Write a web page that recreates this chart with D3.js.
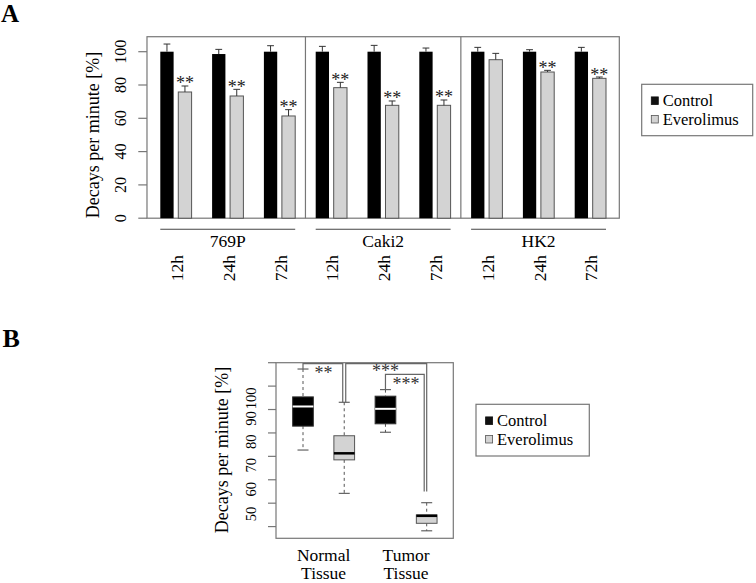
<!DOCTYPE html>
<html><head><meta charset="utf-8">
<script src="https://cdn.jsdelivr.net/npm/d3@7"></script>
<style>body{margin:0;background:#fff}svg{display:block}text{font-family:"Liberation Serif","Times New Roman",serif}</style>
</head><body><div id="chart"></div>
<script>
// ---------- Panel A data ----------
const cells = ["769P", "Caki2", "HK2"];
const times = ["12h", "24h", "72h"];
const series = ["Control", "Everolimus"];
const controlMean = [100, 98.6, 100, 100, 100, 100, 100, 100, 100];
const controlErr  = [4.6, 2.8, 3.6, 3.2, 3.8, 2.2, 2.6, 1.2, 2.6];
const everoMean   = [75.8, 73.4, 61.4, 78.4, 67.8, 67.8, 95.2, 87.8, 84.0];
const everoErr    = [3.6, 4.0, 3.8, 3.2, 2.6, 3.2, 3.8, 1.0, 0.8];
const everoSig    = ["**", "**", "**", "**", "**", "**", "", "**", "**"];
const yTicksA     = [0, 20, 40, 60, 80, 100];

// ---------- Panel B data ----------
const tissues   = ["Normal\nTissue", "Tumor\nTissue"];
const boxGroups = ["Normal Control", "Normal Everolimus", "Tumor Control", "Tumor Everolimus"];
const boxMin    = [82.7, 64.2, 90.3, 48.2];
const boxQ1     = [92.9, 78.5, 93.9, 51.4];
const boxMedian = [101.3, 81.3, 100.3, 54.6];
const boxQ3     = [105.4, 88.8, 105.7, 55.0];
const boxMax    = [117.3, 103.1, 108.5, 60.2];
const yTicksB   = [50, 60, 70, 80, 90, 100, 110, 120];
const yLabelsB  = [50, 60, 70, 80, 90, 100];
const yLabelAtB = [55.4, 66.0, 76.2, 86.2, 96.2, 104.8]; // where the printed labels sit (shifted in the original)
// significance brackets
const sigFrom   = [0, 1, 2];
const sigTo     = [1, 3, 3];
const sigLabel  = ["**", "***", "***"];
const sigLevel  = [119.6, 119.6, 115.0];
const sigEndA   = [117.3, 103.1, 108.5];
const sigEndB   = [103.1, 65.0, 65.0];

const W = 756, H = 583;
const svg = d3.select("#chart").append("svg").attr("width", W).attr("height", H);
const frameCol = "#777";
const fillGrey = "#d3d3d3";

// ================= Panel A =================
const keys = cells.flatMap(c => times.map(t => c + "|" + t));
const xA = d3.scaleBand().domain(keys).range([150.8, 617]);
const xIn = d3.scaleBand().domain(series).range([9.5, 40.8]).paddingInner(0.26);
const bw = xIn.bandwidth();
const yA = d3.scaleLinear().domain([0, 100]).range([218.2, 51.7]);
const gA = svg.append("g");

const leftA = xA(keys[0]) + xIn("Control") - bw;
const rightA = xA(keys[keys.length - 1]) + xIn("Everolimus") + 2 * bw;

gA.append("text").attr("x", 1).attr("y", 21.7).attr("font-size", 25).attr("font-weight", "bold").text("A");

gA.append("rect").attr("x", leftA).attr("y", yA(109)).attr("width", rightA - leftA)
  .attr("height", yA(0) - yA(109)).attr("fill", "none").attr("stroke", frameCol).attr("stroke-width", 1.2);
[3, 6].forEach(i => {
  const xe = xA(keys[i - 1]) + xIn("Everolimus") + bw;
  const xs = xA(keys[i]) + xIn("Control");
  gA.append("line").attr("x1", (xe + xs) / 2).attr("x2", (xe + xs) / 2)
    .attr("y1", yA(109)).attr("y2", yA(0)).attr("stroke", frameCol).attr("stroke-width", 1.2);
});
yTicksA.forEach(v => {
  gA.append("line").attr("x1", leftA - 8.7).attr("x2", leftA).attr("y1", yA(v)).attr("y2", yA(v))
    .attr("stroke", frameCol).attr("stroke-width", 1.2);
  gA.append("text").attr("transform", `translate(120,${yA(v)}) rotate(-90)`)
    .attr("text-anchor", "middle").attr("dy", "0.35em").attr("font-size", 16).text(v);
});
gA.append("text").attr("transform", `translate(93,${(yA(0) + yA(100)) / 2}) rotate(-90)`)
  .attr("text-anchor", "middle").attr("dy", "0.35em").attr("font-size", 18).text("Decays per minute [%]");

keys.forEach((k, i) => {
  const xc = xA(k) + xIn("Control"), xe = xA(k) + xIn("Everolimus");
  gA.append("rect").attr("x", xc).attr("y", yA(controlMean[i])).attr("width", bw)
    .attr("height", yA(0) - yA(controlMean[i])).attr("fill", "#000");
  gA.append("rect").attr("x", xe).attr("y", yA(everoMean[i])).attr("width", bw)
    .attr("height", yA(0) - yA(everoMean[i])).attr("fill", fillGrey).attr("stroke", "#555").attr("stroke-width", 1);
  [[xc, controlMean[i], controlErr[i]], [xe, everoMean[i], everoErr[i]]].forEach(([x, m, e]) => {
    const cx = x + bw / 2;
    gA.append("line").attr("x1", cx).attr("x2", cx).attr("y1", yA(m)).attr("y2", yA(m + e))
      .attr("stroke", "#333").attr("stroke-width", 1);
    gA.append("line").attr("x1", cx - 3.4).attr("x2", cx + 3.4).attr("y1", yA(m + e)).attr("y2", yA(m + e))
      .attr("stroke", "#333").attr("stroke-width", 1);
  });
  if (everoSig[i]) {
    gA.append("text").attr("x", xe + bw / 2).attr("y", yA(everoMean[i] + everoErr[i]) + 3.5)
      .attr("text-anchor", "middle").attr("font-size", 18).attr("fill", "#222").text(everoSig[i]);
  }
  const gc = (xc + xe + bw) / 2 + 0.9;
  gA.append("text").attr("transform", `translate(${gc},255) rotate(-90)`)
    .attr("text-anchor", "end").attr("dy", "0.35em").attr("font-size", 17.5).text(times[i % 3]);
});
cells.forEach((c, ci) => {
  const x1 = xA(keys[ci * 3]) + xIn("Control");
  const x2 = xA(keys[ci * 3 + 2]) + xIn("Everolimus") + bw;
  gA.append("line").attr("x1", x1).attr("x2", x2).attr("y1", 229.3).attr("y2", 229.3)
    .attr("stroke", "#444").attr("stroke-width", 1.1);
  gA.append("text").attr("x", (x1 + x2) / 2).attr("y", 246.7).attr("text-anchor", "middle")
    .attr("font-size", 17.5).text(c);
});
function legend(g, x, y, w, h) {
  g.append("rect").attr("x", x).attr("y", y).attr("width", w).attr("height", h)
    .attr("fill", "#fff").attr("stroke", frameCol).attr("stroke-width", 1.2);
  series.forEach((s, i) => {
    const by = y + 22 + i * 18.5;
    g.append("rect").attr("x", x + 9.6).attr("y", by - 9.4).attr("width", 7).attr("height", 7.6)
      .attr("fill", i === 0 ? "#111" : fillGrey).attr("stroke", i === 0 ? "#111" : "#555").attr("stroke-width", 0.8);
    g.append("text").attr("x", x + 21).attr("y", by).attr("font-size", 16.5).text(s);
  });
}
legend(gA, 641.7, 84.3, 111, 51.4);

// ================= Panel B =================
const gB = svg.append("g");
const xB = d3.scaleLinear().domain([0, 3]).range([303, 426.7]);
const yB = d3.scaleLinear().domain([45, 120]).range([538.3, 362.7]);
const leftB = xB(0) - 27, rightB = xB(3) + 26.6;
const boxW = 20.7, capW = 11;

gB.append("text").attr("x", 2.5).attr("y", 346.7).attr("font-size", 26).attr("font-weight", "bold").text("B");

gB.append("rect").attr("x", leftB).attr("y", yB(120)).attr("width", rightB - leftB)
  .attr("height", yB(45) - yB(120)).attr("fill", "none").attr("stroke", frameCol).attr("stroke-width", 1.2);
yTicksB.forEach(v => {
  gB.append("line").attr("x1", leftB - 8).attr("x2", leftB).attr("y1", yB(v)).attr("y2", yB(v))
    .attr("stroke", frameCol).attr("stroke-width", 1.2);
});
yLabelsB.forEach((v, i) => {
  gB.append("text").attr("transform", `translate(250.5,${yB(yLabelAtB[i])}) rotate(-90)`)
    .attr("text-anchor", "middle").attr("dy", "0.35em").attr("font-size", 14.5).text(v);
});
gB.append("text").attr("transform", `translate(221.7,450) rotate(-90)`)
  .attr("text-anchor", "middle").attr("dy", "0.35em").attr("font-size", 18).text("Decays per minute [%]");

boxGroups.forEach((b, i) => {
  const cx = xB(i);
  const isCtrl = i % 2 === 0;
  const wcol = "#555";
  gB.append("line").attr("x1", cx).attr("x2", cx).attr("y1", yB(boxMax[i])).attr("y2", yB(boxQ3[i]))
    .attr("stroke", wcol).attr("stroke-dasharray", "3,3").attr("stroke-width", 1);
  gB.append("line").attr("x1", cx).attr("x2", cx).attr("y1", yB(boxQ1[i])).attr("y2", yB(boxMin[i]))
    .attr("stroke", wcol).attr("stroke-dasharray", "3,3").attr("stroke-width", 1);
  [boxMax[i], boxMin[i]].forEach(v => {
    gB.append("line").attr("x1", cx - capW / 2).attr("x2", cx + capW / 2).attr("y1", yB(v)).attr("y2", yB(v))
      .attr("stroke", wcol).attr("stroke-width", 1.1);
  });
  gB.append("rect").attr("x", cx - boxW / 2).attr("y", yB(boxQ3[i])).attr("width", boxW)
    .attr("height", yB(boxQ1[i]) - yB(boxQ3[i]))
    .attr("fill", isCtrl ? "#000" : fillGrey).attr("stroke", isCtrl ? "#333" : "#555").attr("stroke-width", 1);
  gB.append("line").attr("x1", cx - boxW / 2).attr("x2", cx + boxW / 2)
    .attr("y1", yB(boxMedian[i])).attr("y2", yB(boxMedian[i]))
    .attr("stroke", isCtrl ? "#fff" : "#000").attr("stroke-width", isCtrl ? 2 : 2.5);
});

const legOff = [[0, -1.5], [1.5, 0], [0, -2.5]];
sigLabel.forEach((lab, j) => {
  const xa = xB(sigFrom[j]) + legOff[j][0], xb = xB(sigTo[j]) + legOff[j][1];
  const yl = yB(sigLevel[j]);
  gB.append("path")
    .attr("d", `M${xa},${yB(sigEndA[j])}V${yl}H${xb}V${yB(sigEndB[j])}`)
    .attr("fill", "none").attr("stroke", "#666").attr("stroke-width", 1.2);
  gB.append("text").attr("x", (xB(sigFrom[j]) + xB(sigTo[j])) / 2).attr("y", yl + (j === 1 ? 13.5 : 15.5))
    .attr("text-anchor", "middle").attr("font-size", 18).attr("fill", "#333").text(lab);
});

tissues.forEach((t, i) => {
  const cx = (xB(i * 2) + xB(i * 2 + 1)) / 2;
  t.split("\n").forEach((line, li) => {
    gB.append("text").attr("x", cx).attr("y", 560.5 + li * 18.8).attr("text-anchor", "middle")
      .attr("font-size", 17.5).text(line);
  });
});

legend(gB, 476, 404.3, 113.3, 51.7);
</script></body></html>
